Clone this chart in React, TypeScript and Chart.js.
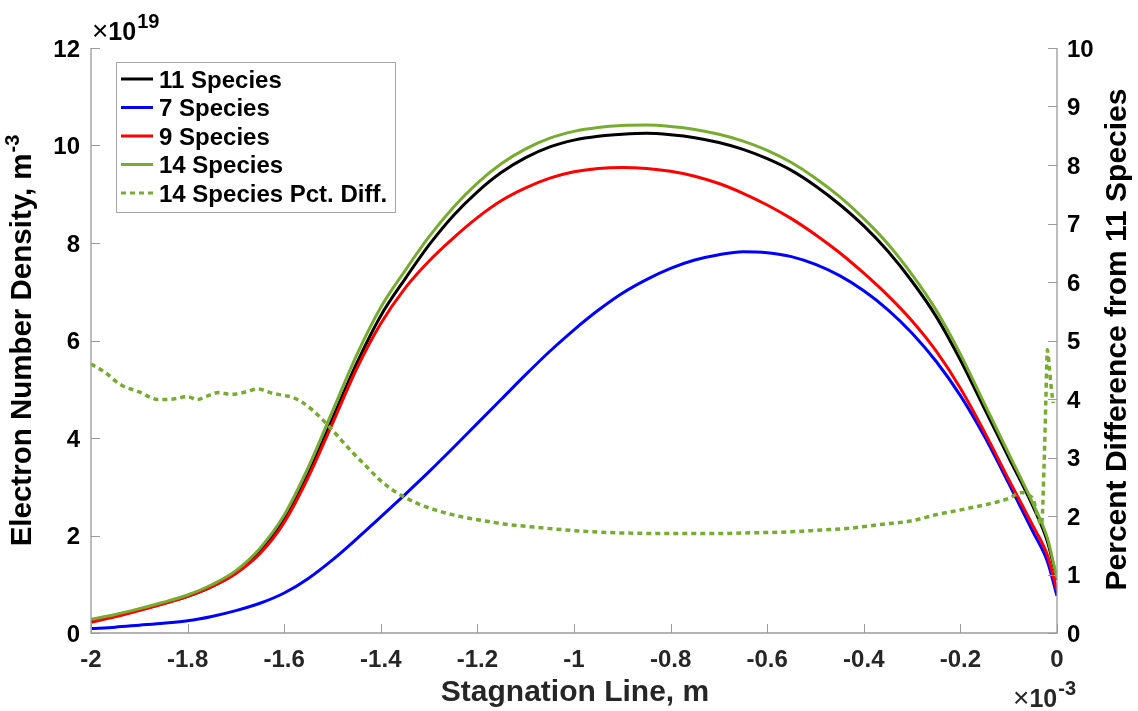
import React, { useEffect, useRef } from 'react';
import { Chart, registerables } from 'chart.js';

Chart.register(...registerables);

// Stagnation-line position, in units of 1e-3 m
const positions = [
  -2, -1.95, -1.9, -1.85, -1.8, -1.75, -1.7, -1.65, -1.6, -1.55, -1.5, -1.45, -1.4, -1.35,
  -1.3, -1.25, -1.2, -1.15, -1.1, -1.05, -1.0, -0.95, -0.9, -0.85, -0.8, -0.75, -0.7,
  -0.65, -0.6, -0.55, -0.5, -0.45, -0.4, -0.35, -0.3, -0.25, -0.2, -0.15, -0.1, -0.05,
  -0.02, 0,
];

// Electron number density, in units of 1e19 m^-3
const species11 = [
  0.268, 0.364, 0.48, 0.606, 0.75, 0.95, 1.23, 1.67, 2.33, 3.27, 4.4, 5.53, 6.51, 7.26,
  7.96, 8.56, 9.05, 9.45, 9.75, 9.97, 10.11, 10.19, 10.23, 10.25, 10.22, 10.16, 10.06,
  9.92, 9.73, 9.49, 9.17, 8.79, 8.35, 7.83, 7.21, 6.49, 5.6, 4.6, 3.6, 2.6,
  1.88, 1.09,
];
const species7 = [
  0.09, 0.12, 0.16, 0.2, 0.25, 0.34, 0.46, 0.61, 0.82, 1.12, 1.5, 1.93, 2.38, 2.84,
  3.31, 3.8, 4.3, 4.8, 5.3, 5.78, 6.22, 6.62, 6.97, 7.25, 7.48, 7.65, 7.76,
  7.82, 7.8, 7.72, 7.56, 7.33, 7.02, 6.63, 6.15, 5.57, 4.87, 4.03, 3.07, 2.08,
  1.47, 0.76,
];
const species9 = [
  0.22, 0.33, 0.46, 0.6, 0.75, 0.95, 1.22, 1.63, 2.27, 3.2, 4.3, 5.42, 6.35, 7.07,
  7.63, 8.1, 8.52, 8.87, 9.13, 9.33, 9.46, 9.53, 9.55, 9.53, 9.47, 9.37, 9.22,
  9.02, 8.78, 8.5, 8.17, 7.8, 7.38, 6.92, 6.4, 5.78, 5.02, 4.12, 3.15, 2.2,
  1.6, 0.87,
];
const species14 = [
  0.28, 0.38, 0.5, 0.63, 0.78, 0.99, 1.28, 1.74, 2.42, 3.4, 4.55, 5.7, 6.68, 7.43,
  8.13, 8.73, 9.23, 9.63, 9.93, 10.15, 10.29, 10.37, 10.41, 10.42, 10.39, 10.33, 10.23,
  10.09, 9.9, 9.65, 9.33, 8.95, 8.5, 7.98, 7.35, 6.62, 5.72, 4.7, 3.68, 2.66,
  1.95, 1.12,
];

// Percent difference of the 14-species result from the 11-species result
const pctPositions = [
  -2, -1.97, -1.94, -1.9, -1.86, -1.83, -1.8, -1.78, -1.76, -1.735, -1.71, -1.68, -1.655,
  -1.625, -1.6, -1.583, -1.56, -1.54, -1.507, -1.48, -1.46, -1.43, -1.404, -1.38, -1.355,
  -1.32, -1.286, -1.25, -1.217, -1.18, -1.141, -1.083, -1.0, -0.964, -0.9, -0.805, -0.7,
  -0.647, -0.55, -0.489, -0.43, -0.37, -0.3, -0.251, -0.19, -0.124, -0.1, -0.073, -0.06,
  -0.049, -0.04, -0.032, -0.027, -0.023, -0.02, -0.016, -0.012, -0.008,
];
const pctDiff14 = [
  4.6, 4.45, 4.25, 4.12, 3.99, 4.0, 4.04, 3.99, 4.05, 4.11, 4.08, 4.12, 4.17,
  4.1, 4.06, 4.03, 3.93, 3.8, 3.53, 3.28, 3.1, 2.85, 2.63, 2.47, 2.34,
  2.2, 2.1, 2.02, 1.96, 1.91, 1.86, 1.81, 1.75, 1.73, 1.71, 1.7, 1.7,
  1.71, 1.73, 1.76, 1.79, 1.85, 1.92, 2.02, 2.12, 2.24, 2.3, 2.4, 2.36,
  2.28, 2.0, 1.85, 2.8, 4.0, 4.84, 4.55, 4.2, 3.93,
];

const xTicks = [-2, -1.8, -1.6, -1.4, -1.2, -1, -0.8, -0.6, -0.4, -0.2, 0];
const xTickLabels = ['-2', '-1.8', '-1.6', '-1.4', '-1.2', '-1', '-0.8', '-0.6', '-0.4', '-0.2', '0'];
const leftTicks = [0, 2, 4, 6, 8, 10, 12];
const rightTicks = [0, 1, 2, 3, 4, 5, 6, 7, 8, 9, 10];

const seriesLabels = ['11 Species', '7 Species', '9 Species', '14 Species', '14 Species Pct. Diff.'];
const seriesColors = ['#000000', '#0000ff', '#ff0000', '#77ac30', '#77ac30'];
const DOT_DASH = [5, 4];

const xTitle = 'Stagnation Line, m';
const leftTitle = 'Electron Number Density, m';
const leftTitleSup = '-3';
const rightTitle = 'Percent Difference from 11 Species';

const FONT = '"Liberation Sans", Arial, Helvetica, sans-serif';
const AXIS_GREY = '#9a9a9a';
const TICK_LEN = 9;

// "×10^n" multiplier label; x is the left edge, y the baseline of "10"
function drawMultiplier(ctx: CanvasRenderingContext2D, exp: string, x: number, y: number, color: string) {
  ctx.save();
  ctx.fillStyle = color;
  ctx.textAlign = 'left';
  ctx.textBaseline = 'alphabetic';
  ctx.font = `normal 28px ${FONT}`;
  ctx.fillText('\u00d7', x, y);
  let cx = x + ctx.measureText('\u00d7').width;
  ctx.font = `bold 25px ${FONT}`;
  ctx.fillText('10', cx, y);
  cx += ctx.measureText('10').width + 1;
  ctx.font = `bold 20px ${FONT}`;
  ctx.fillText(exp, cx, y - 12);
  ctx.restore();
}

function multiplierWidth(ctx: CanvasRenderingContext2D, exp: string) {
  ctx.save();
  ctx.font = `normal 28px ${FONT}`;
  let w = ctx.measureText('\u00d7').width;
  ctx.font = `bold 25px ${FONT}`;
  w += ctx.measureText('10').width + 1;
  ctx.font = `bold 20px ${FONT}`;
  w += ctx.measureText(exp).width;
  ctx.restore();
  return w;
}

const decorations = {
  id: 'matlabDecorations',
  afterDraw(chart: any) {
    const ctx: CanvasRenderingContext2D = chart.ctx;
    const { left, right, top, bottom } = chart.chartArea;
    const xs = chart.scales.x;
    const yl = chart.scales.y;
    const yr = chart.scales.y1;
    ctx.save();

    // axis lines (left, bottom, right)
    ctx.strokeStyle = AXIS_GREY;
    ctx.lineWidth = 1.3;
    ctx.beginPath();
    ctx.moveTo(left, top);
    ctx.lineTo(left, bottom);
    ctx.lineTo(right, bottom);
    ctx.lineTo(right, top);
    ctx.stroke();

    // inward tick marks
    ctx.lineWidth = 1;
    ctx.beginPath();
    xTicks.forEach((v) => {
      const px = Math.round(xs.getPixelForValue(v)) + 0.5;
      ctx.moveTo(px, bottom);
      ctx.lineTo(px, bottom - TICK_LEN);
    });
    leftTicks.forEach((v) => {
      const py = Math.round(yl.getPixelForValue(v)) + 0.5;
      ctx.moveTo(left, py);
      ctx.lineTo(left + TICK_LEN, py);
    });
    rightTicks.forEach((v) => {
      const py = Math.round(yr.getPixelForValue(v)) + 0.5;
      ctx.moveTo(right, py);
      ctx.lineTo(right - TICK_LEN, py);
    });
    ctx.stroke();

    // tick labels
    ctx.font = `bold 24px ${FONT}`;
    ctx.textBaseline = 'alphabetic';
    ctx.fillStyle = '#262626';
    ctx.textAlign = 'center';
    xTicks.forEach((v, i) => {
      ctx.fillText(xTickLabels[i], xs.getPixelForValue(v), 667);
    });
    ctx.fillStyle = '#000000';
    ctx.textAlign = 'right';
    leftTicks.forEach((v) => {
      ctx.fillText(String(v), left - 11, yl.getPixelForValue(v) + 8.6);
    });
    ctx.textAlign = 'left';
    rightTicks.forEach((v) => {
      ctx.fillText(String(v), right + 10, yr.getPixelForValue(v) + 8.6);
    });

    // exponent labels
    drawMultiplier(ctx, '19', left + 1, 40, '#000000');
    drawMultiplier(ctx, '-3', 1076 - multiplierWidth(ctx, '-3'), 707, '#262626');

    // axis titles
    const cy = (top + bottom) / 2;
    ctx.font = `bold 30px ${FONT}`;
    ctx.fillStyle = '#262626';
    ctx.textAlign = 'center';
    ctx.fillText(xTitle, (left + right) / 2 + 1, 701);

    ctx.fillStyle = '#000000';
    ctx.textAlign = 'left';
    ctx.font = `bold 29.5px ${FONT}`;
    const wl = ctx.measureText(leftTitle).width;
    ctx.font = `bold 20px ${FONT}`;
    const wls = ctx.measureText(leftTitleSup).width;
    const totalL = wl + 1 + wls;
    ctx.save();
    ctx.translate(31, cy + totalL / 2);
    ctx.rotate(-Math.PI / 2);
    ctx.font = `bold 29.5px ${FONT}`;
    ctx.fillText(leftTitle, 0, 0);
    ctx.font = `bold 20px ${FONT}`;
    ctx.fillText(leftTitleSup, wl + 1, -12);
    ctx.restore();

    ctx.font = `bold 30px ${FONT}`;
    const wr = ctx.measureText(rightTitle).width;
    ctx.save();
    ctx.translate(1126, cy - 1 + wr / 2);
    ctx.rotate(-Math.PI / 2);
    ctx.fillText(rightTitle, 0, 0);
    ctx.restore();

    // legend
    const lx = 116.5;
    const ly = 62.5;
    const lw = 279;
    const lh = 150;
    ctx.fillStyle = '#ffffff';
    ctx.fillRect(lx, ly, lw, lh);
    ctx.strokeStyle = '#a6a6a6';
    ctx.lineWidth = 1;
    ctx.strokeRect(lx, ly, lw, lh);
    const rowY = [79, 107.5, 136, 164.5, 193];
    ctx.font = `bold 24px ${FONT}`;
    ctx.textAlign = 'left';
    seriesLabels.forEach((label, i) => {
      const y = rowY[i];
      ctx.strokeStyle = seriesColors[i];
      ctx.lineWidth = 3;
      ctx.setLineDash(i === 4 ? DOT_DASH : []);
      ctx.beginPath();
      ctx.moveTo(121, y);
      ctx.lineTo(153, y);
      ctx.stroke();
      ctx.setLineDash([]);
      ctx.fillStyle = '#000000';
      ctx.fillText(label, 159, y + 8.5);
    });

    ctx.restore();
  },
};

export default function App() {
  const canvasRef = useRef<HTMLCanvasElement | null>(null);

  useEffect(() => {
    const canvas = canvasRef.current;
    if (!canvas) return;

    const toPoints = (xv: number[], yv: number[]) => xv.map((x, i) => ({ x, y: yv[i] }));
    const solid = (i: number, values: number[]) => ({
      label: seriesLabels[i],
      data: toPoints(positions, values),
      borderColor: seriesColors[i],
      borderWidth: 3,
      pointRadius: 0,
      fill: false,
      cubicInterpolationMode: 'monotone' as const,
      yAxisID: 'y',
      order: 10 - i,
    });

    const chart = new Chart(canvas, {
      type: 'line',
      data: {
        datasets: [
          solid(0, species11),
          solid(1, species7),
          solid(2, species9),
          solid(3, species14),
          {
            label: seriesLabels[4],
            data: toPoints(pctPositions, pctDiff14),
            borderColor: seriesColors[4],
            borderWidth: 3.5,
            borderDash: DOT_DASH,
            pointRadius: 0,
            fill: false,
            cubicInterpolationMode: 'monotone' as const,
            yAxisID: 'y1',
            order: 1,
          },
        ],
      },
      options: {
        responsive: false,
        animation: false,
        devicePixelRatio: 1,
        layout: { padding: { top: 48, left: 0, right: 0, bottom: 0 } },
        plugins: {
          legend: { display: false },
          tooltip: { enabled: false },
          title: { display: false },
        },
        scales: {
          x: {
            type: 'linear',
            min: -2,
            max: 0,
            grid: { display: false },
            border: { display: false },
            ticks: { display: false },
            afterFit: (s: any) => {
              s.height = 78;
            },
          },
          y: {
            type: 'linear',
            position: 'left',
            min: 0,
            max: 12,
            grid: { display: false },
            border: { display: false },
            ticks: { display: false },
            afterFit: (s: any) => {
              s.width = 91;
            },
          },
          y1: {
            type: 'linear',
            position: 'right',
            min: 0,
            max: 10,
            grid: { display: false },
            border: { display: false },
            ticks: { display: false },
            afterFit: (s: any) => {
              s.width = 81;
            },
          },
        },
      },
      plugins: [decorations],
    });

    return () => chart.destroy();
  }, []);

  return (
    <div style={{ position: 'fixed', left: 0, top: 0, width: 1138, height: 711, background: '#ffffff' }}>
      <canvas ref={canvasRef} width={1138} height={711} style={{ display: 'block' }} />
    </div>
  );
}
